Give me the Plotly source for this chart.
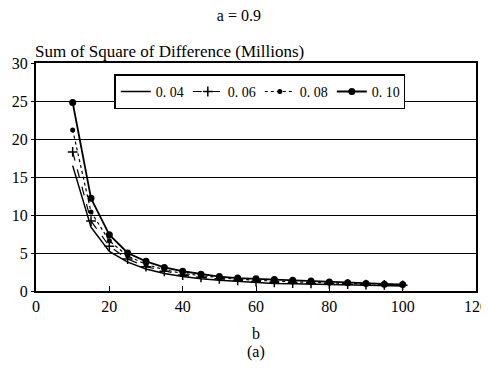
import plotly.graph_objects as go

b = [10, 15, 20, 25, 30, 35, 40, 45, 50, 55, 60, 65, 70, 75, 80, 85, 90, 95, 100]
s04 = [16.5, 8.4, 5.2, 3.8, 2.9, 2.3, 1.9, 1.6, 1.4, 1.25, 1.1, 1.0, 0.95, 0.9, 0.85, 0.8, 0.75, 0.7, 0.65]
s06 = [18.3, 9.2, 5.9, 4.2, 3.2, 2.6, 2.1, 1.8, 1.6, 1.4, 1.25, 1.15, 1.05, 1.0, 0.95, 0.9, 0.85, 0.8, 0.75]
s08 = [21.2, 10.4, 6.6, 4.6, 3.5, 2.8, 2.3, 2.0, 1.75, 1.55, 1.4, 1.3, 1.2, 1.1, 1.05, 1.0, 0.95, 0.9, 0.85]
s10 = [24.8, 12.2, 7.4, 5.0, 3.9, 3.1, 2.6, 2.2, 1.9, 1.7, 1.6, 1.5, 1.4, 1.3, 1.2, 1.1, 1.0, 0.9, 0.85]
names = ['0. 04', '0. 06', '0. 08', '0. 10']
x_ticks = [0, 20, 40, 60, 80, 100, 120]
y_ticks = [0, 5, 10, 15, 20, 25, 30]

serif = 'Liberation Serif'

fig = go.Figure()
fig.add_trace(go.Scatter(x=b, y=s04, name=names[0], mode='lines',
                         line=dict(color='black', width=1.5)))
fig.add_trace(go.Scatter(x=b, y=s06, name=names[1], mode='lines+markers',
                         line=dict(color='black', width=1.2, dash='dash'),
                         marker=dict(symbol='cross-thin', size=7,
                                     line=dict(color='black', width=1.5))))
fig.add_trace(go.Scatter(x=b, y=s08, name=names[2], mode='lines+markers',
                         line=dict(color='black', width=1.2, dash='dot'),
                         marker=dict(symbol='circle', size=5, color='black')))
fig.add_trace(go.Scatter(x=b, y=s10, name=names[3], mode='lines+markers',
                         line=dict(color='black', width=1.8),
                         marker=dict(symbol='circle', size=7, color='black')))

# page body has an 8px margin, so the figure is sized to fill the rest
fig.update_layout(
    width=481, height=364,
    margin=dict(l=28, r=13, t=55, b=81, autoexpand=False),
    paper_bgcolor='white', plot_bgcolor='white',
    font=dict(family=serif, size=16, color='black'),
    title=dict(text='a = 0.9', x=0.48, xanchor='center', y=0.98, yanchor='middle',
               font=dict(family=serif, size=16)),
    legend=dict(orientation='h', x=0.178, y=0.95, xanchor='left', yanchor='top',
                bordercolor='black', borderwidth=1.5, bgcolor='white',
                font=dict(family=serif, size=14), itemwidth=30,
                entrywidth=27, entrywidthmode='pixels', tracegroupgap=0),
    xaxis=dict(range=[0, 120], tickvals=x_ticks,
               showline=True, mirror=True, linecolor='black', linewidth=2,
               ticks='inside', ticklen=5, tickcolor='black', showgrid=False,
               zeroline=False, automargin=False,
               title=dict(text='b', standoff=14, font=dict(size=16))),
    yaxis=dict(range=[0, 30], tickvals=y_ticks,
               showline=True, mirror=True, linecolor='black', linewidth=2,
               ticks='outside', ticklen=3, tickcolor='black',
               showgrid=True, gridcolor='black', gridwidth=1,
               zeroline=False, automargin=False),
)

fig.add_annotation(text='Sum of Square of Difference (Millions)', xref='paper', yref='paper',
                   x=-0.007, y=1.0, xanchor='left', yanchor='bottom', showarrow=False,
                   font=dict(family=serif, size=17))
fig.add_annotation(text='(a)', xref='paper', yref='paper',
                   x=0.5, y=-0.267, xanchor='center', yanchor='middle', showarrow=False,
                   font=dict(family=serif, size=16))

fig.write_html('out.html')
